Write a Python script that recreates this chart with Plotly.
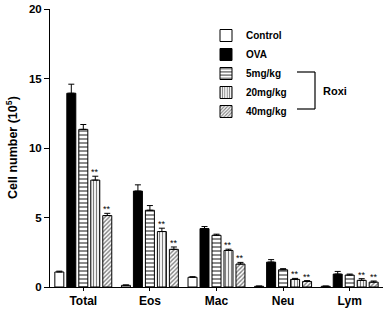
import plotly.graph_objects as go

categories = ["Total", "Eos", "Mac", "Neu", "Lym"]
series_names = ["Control", "OVA", "5mg/kg", "20mg/kg", "40mg/kg"]

control = [1.08, 0.12, 0.70, 0.05, 0.05]
ova = [13.94, 6.90, 4.20, 1.79, 0.93]
roxi5 = [11.34, 5.52, 3.72, 1.24, 0.86]
roxi20 = [7.69, 3.99, 2.63, 0.55, 0.48]
roxi40 = [5.14, 2.71, 1.65, 0.40, 0.35]

control_err = [0.06, 0.03, 0.04, 0.02, 0.02]
ova_err = [0.65, 0.45, 0.15, 0.18, 0.19]
roxi5_err = [0.35, 0.34, 0.08, 0.08, 0.07]
roxi20_err = [0.28, 0.24, 0.09, 0.07, 0.12]
roxi40_err = [0.16, 0.17, 0.12, 0.06, 0.08]

significant = ["", "", "", "**", "**"]

values = [control, ova, roxi5, roxi20, roxi40]
errors = [control_err, ova_err, roxi5_err, roxi20_err, roxi40_err]

FONT = "Liberation Sans, Arial, sans-serif"

styles = [
    dict(color="white", pattern=None),
    dict(color="black", pattern=None),
    dict(color="white", pattern=dict(shape="-", fgcolor="black", bgcolor="white", size=4, solidity=0.45)),
    dict(color="white", pattern=dict(shape="|", fgcolor="black", bgcolor="white", size=3, solidity=0.4)),
    dict(color="white", pattern=dict(shape="/", fgcolor="black", bgcolor="white", size=3, solidity=0.45)),
]

x_idx = list(range(len(categories)))
fig = go.Figure()
for name, vals, errs, st in zip(series_names, values, errors, styles):
    marker = dict(color=st["color"], line=dict(color="black", width=1))
    if st["pattern"] is not None:
        marker["pattern"] = st["pattern"]
    fig.add_trace(go.Bar(
        name="<b>%s</b>" % name, x=x_idx, y=vals, marker=marker,
        error_y=dict(type="data", symmetric=False, array=errs,
                     arrayminus=[0] * len(errs), color="black",
                     thickness=1, width=3),
    ))

bargap = 0.1
nser = len(series_names)
slot = (1 - bargap) / nser
annotations = []
for k, mark in enumerate(significant):
    if not mark:
        continue
    for i in x_idx:
        annotations.append(dict(
            x=i + (k - (nser - 1) / 2) * slot, y=values[k][i] + errors[k][i],
            xref="x", yref="y", text=mark, showarrow=False,
            yanchor="bottom", yshift=-3,
            font=dict(family=FONT, size=9, color="black"),
        ))

# bracket for Roxi
X0, X1 = 50, 383
Y0, Y1 = 9, 287
def px(x):
    return (x - X0) / (X1 - X0)
def py(y):
    return 1 - (y - Y0) / (Y1 - Y0)

shapes = []
for (xa, ya, xb, yb) in [(297, 72, 315, 72), (315, 72, 315, 109), (315, 109, 297, 109)]:
    shapes.append(dict(type="line", xref="paper", yref="paper",
                       x0=px(xa), y0=py(ya), x1=px(xb), y1=py(yb),
                       line=dict(color="black", width=1.2)))
annotations.append(dict(x=px(321), y=py(91), xref="paper", yref="paper",
                        text="<b>Roxi</b>", showarrow=False, xanchor="left",
                        yanchor="middle", font=dict(family=FONT, size=11, color="black")))
annotations.append(dict(x=px(12), y=py(148), xref="paper", yref="paper",
                        text="<b>Cell number (10<sup>5</sup>)</b>", showarrow=False,
                        textangle=-90, xanchor="center", yanchor="middle",
                        font=dict(family=FONT, size=12.5, color="black")))

fig.update_layout(
    width=388, height=310,
    margin=dict(l=50, r=5, t=9, b=23, autoexpand=False),
    paper_bgcolor="white", plot_bgcolor="white",
    barmode="group", bargap=bargap, bargroupgap=0.25,
    font=dict(family=FONT, size=11, color="black"),
    showlegend=True,
    legend=dict(x=px(206), y=py(21), xanchor="left", yanchor="top",
                bgcolor="rgba(0,0,0,0)", font=dict(family=FONT, size=10),
                tracegroupgap=0, itemwidth=30),
    annotations=annotations, shapes=shapes,
)
fig.update_xaxes(
    range=[-0.5, 4.5], tickmode="array", tickvals=x_idx,
    ticktext=["<b>%s</b>" % c for c in categories],
    showline=True, linecolor="black", linewidth=1,
    ticks="outside", ticklen=3, tickcolor="black",
    showgrid=False, zeroline=False, tickfont=dict(size=12),
    automargin=False,
)
fig.update_yaxes(
    range=[0, 20], tickmode="array", tickvals=[0, 5, 10, 15, 20],
    ticktext=["<b>%d</b>" % v for v in [0, 5, 10, 15, 20]],
    showline=True, linecolor="black", linewidth=1,
    ticks="outside", ticklen=5, tickcolor="black",
    showgrid=False, zeroline=False, tickfont=dict(size=11.5),
    automargin=False,
)

fig.write_html("out.html", config={"displayModeBar": False},
               post_script="document.body.style.margin='0';document.body.style.padding='0';")
